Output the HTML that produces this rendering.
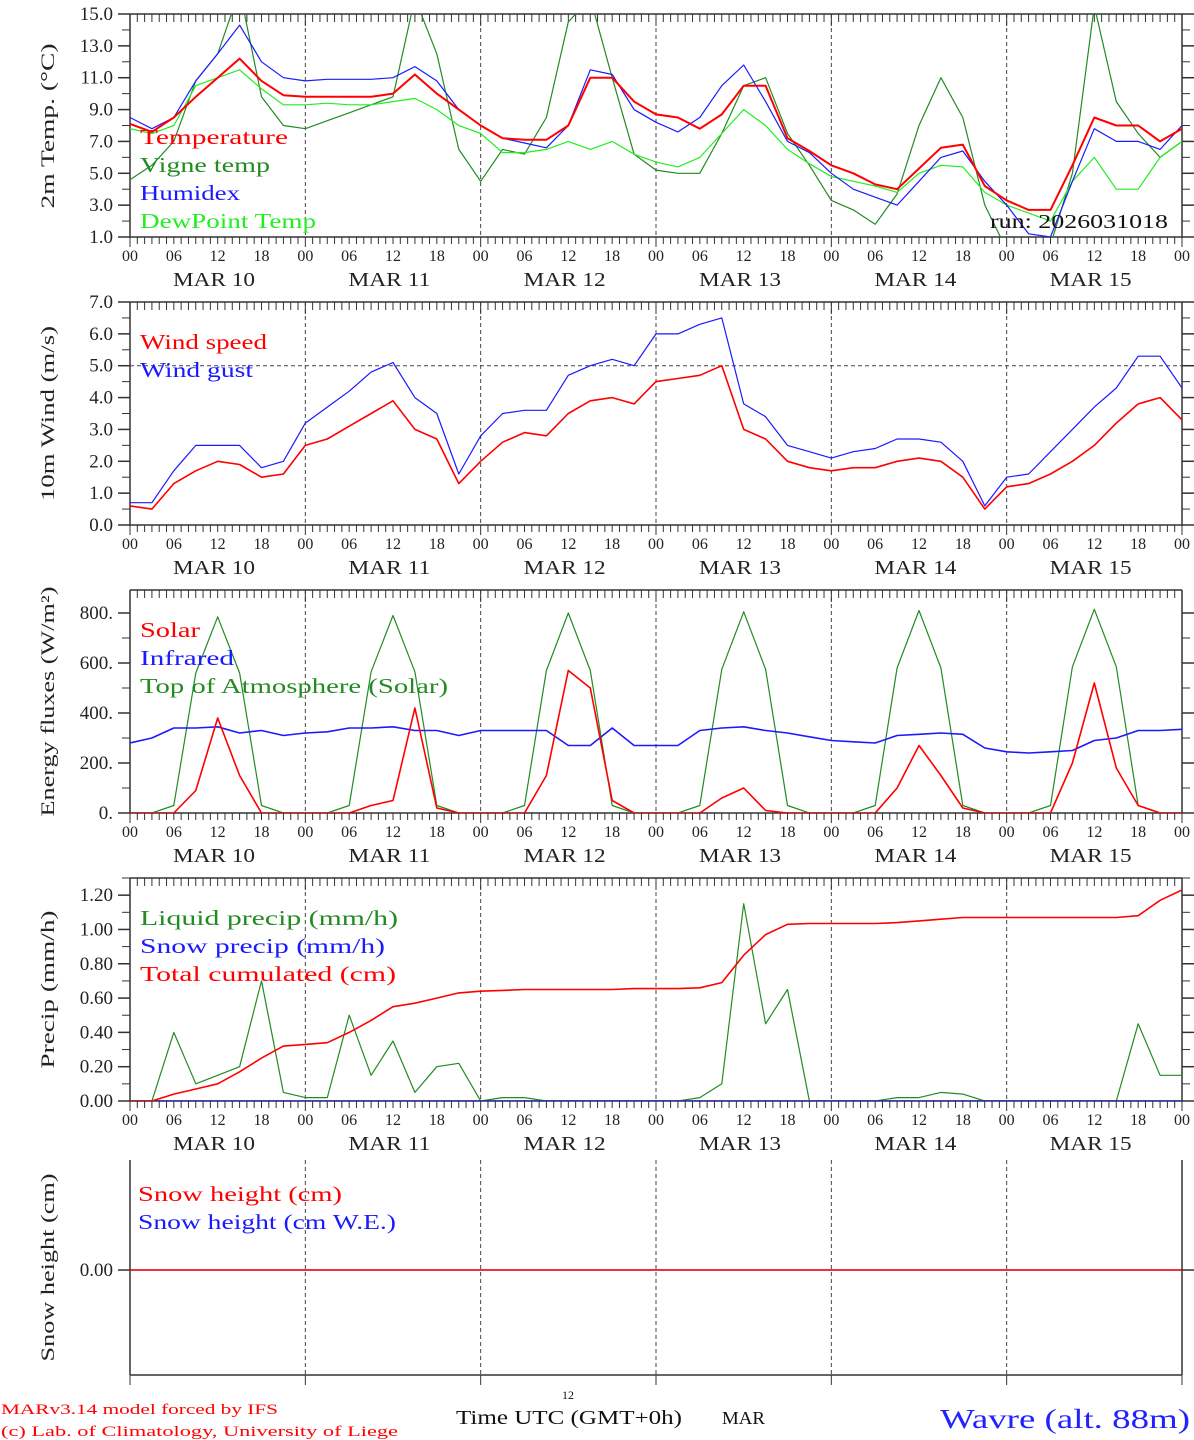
<!DOCTYPE html>
<html><head><meta charset="utf-8"><style>
html,body{margin:0;padding:0;background:#fff;}
svg{display:block;font-family:"Liberation Serif",serif;}
</style></head><body>
<svg id="chart" width="1194" height="1440" viewBox="0 0 1194 1440" xmlns="http://www.w3.org/2000/svg"></svg>
<script>
// ---- data (3-hourly, hours from MAR 10 00 UTC) ----
const hours = [0,3,6,9,12,15,18,21,24,27,30,33,36,39,42,45,48,51,54,57,60,63,66,69,72,75,78,81,84,87,90,93,96,99,102,105,108,111,114,117,120,123,126,129,132,135,138,141,144];
const dayLabels = ["MAR 10","MAR 11","MAR 12","MAR 13","MAR 14","MAR 15"];
const hourTickLabels = ["00","06","12","18"];
// Panel 1: temperatures
const tempValues = [8.1,7.6,8.5,9.8,11.0,12.2,10.8,9.9,9.8,9.8,9.8,9.8,10.0,11.2,10.0,9.0,8.0,7.2,7.1,7.1,8.0,11.0,11.0,9.5,8.7,8.5,7.8,8.7,10.5,10.5,7.2,6.4,5.5,5.0,4.3,4.0,5.3,6.6,6.8,4.2,3.3,2.7,2.7,5.5,8.5,8.0,8.0,7.0,7.8];
const vigneValues = [4.6,5.5,7.0,10.8,12.5,16.5,9.8,8.0,7.8,8.3,8.8,9.3,9.8,16.0,12.5,6.5,4.5,6.5,6.2,8.5,14.5,16.0,11.0,6.2,5.2,5.0,5.0,7.5,10.5,11.0,7.5,5.5,3.3,2.7,1.8,3.7,8.0,11.0,8.5,3.0,0.2,0.0,0.5,5.0,15.5,9.5,7.5,6.0,7.0];
const humidexValues = [8.5,7.8,8.5,10.8,12.5,14.3,12.0,11.0,10.8,10.9,10.9,10.9,11.0,11.7,10.8,9.0,8.0,7.2,6.9,6.6,8.0,11.5,11.2,9.0,8.2,7.6,8.5,10.5,11.8,9.5,7.0,6.3,5.0,4.0,3.5,3.0,4.5,6.0,6.4,4.5,3.0,1.2,1.0,4.5,7.8,7.0,7.0,6.5,8.0];
const dewValues = [7.8,7.5,8.0,10.5,11.0,11.5,10.3,9.3,9.3,9.4,9.3,9.3,9.5,9.7,9.0,8.0,7.5,6.3,6.3,6.5,7.0,6.5,7.0,6.2,5.7,5.4,6.0,7.5,9.0,8.0,6.5,5.6,4.8,4.5,4.2,3.8,5.0,5.5,5.4,3.8,3.0,2.5,2.0,4.5,6.0,4.0,4.0,6.0,7.0];
const tempTicks = [1,3,5,7,9,11,13,15];
// Panel 2: wind
const windSpeed = [0.6,0.5,1.3,1.7,2.0,1.9,1.5,1.6,2.5,2.7,3.1,3.5,3.9,3.0,2.7,1.3,2.0,2.6,2.9,2.8,3.5,3.9,4.0,3.8,4.5,4.6,4.7,5.0,3.0,2.7,2.0,1.8,1.7,1.8,1.8,2.0,2.1,2.0,1.5,0.5,1.2,1.3,1.6,2.0,2.5,3.2,3.8,4.0,3.3];
const windGust = [0.7,0.7,1.7,2.5,2.5,2.5,1.8,2.0,3.2,3.7,4.2,4.8,5.1,4.0,3.5,1.6,2.8,3.5,3.6,3.6,4.7,5.0,5.2,5.0,6.0,6.0,6.3,6.5,3.8,3.4,2.5,2.3,2.1,2.3,2.4,2.7,2.7,2.6,2.0,0.6,1.5,1.6,2.3,3.0,3.7,4.3,5.3,5.3,4.3];
const windTicks = [0,1,2,3,4,5,6,7];
// Panel 3: energy fluxes
const solarValues = [0,0,0,90,380,150,0,0,0,0,0,30,50,420,20,0,0,0,0,150,570,500,50,0,0,0,0,60,100,10,0,0,0,0,0,100,270,150,20,0,0,0,0,200,520,180,30,0,0];
const infraredValues = [280,300,340,340,345,320,330,310,320,325,340,340,345,330,330,310,330,330,330,330,270,270,340,270,270,270,330,340,345,330,320,305,290,285,280,310,315,320,315,260,245,240,245,250,290,300,330,330,335];
const toaValues = [0,0,30,560,785,560,30,0,0,0,30,565,790,565,30,0,0,0,30,570,800,570,30,0,0,0,30,575,805,575,30,0,0,0,30,580,810,580,30,0,0,0,30,585,815,585,30,0,0];
const energyTicks = [0,200,400,600,800];
const energyTickLabels = ["0.","200.","400.","600.","800."];
// Panel 4: precipitation
const liquidPrecip = [0,0,0.4,0.1,0.15,0.2,0.7,0.05,0.02,0.02,0.5,0.15,0.35,0.05,0.2,0.22,0,0.02,0.02,0,0,0,0,0,0,0,0.02,0.1,1.15,0.45,0.65,0,0,0,0,0.02,0.02,0.05,0.04,0,0,0,0,0,0,0,0.45,0.15,0.15];
const snowPrecip = [0,0,0,0,0,0,0,0,0,0,0,0,0,0,0,0,0,0,0,0,0,0,0,0,0,0,0,0,0,0,0,0,0,0,0,0,0,0,0,0,0,0,0,0,0,0,0,0,0];
const totalCum = [0,0,0.04,0.07,0.1,0.17,0.25,0.32,0.33,0.34,0.4,0.47,0.55,0.57,0.6,0.63,0.64,0.645,0.65,0.65,0.65,0.65,0.65,0.655,0.655,0.655,0.66,0.69,0.85,0.97,1.03,1.035,1.035,1.035,1.035,1.04,1.05,1.06,1.07,1.07,1.07,1.07,1.07,1.07,1.07,1.07,1.08,1.17,1.23];
const precipTicks = [0,0.2,0.4,0.6,0.8,1.0,1.2];
// Panel 5: snow height
const snowHeight = [0,0,0,0,0,0,0,0,0,0,0,0,0,0,0,0,0,0,0,0,0,0,0,0,0,0,0,0,0,0,0,0,0,0,0,0,0,0,0,0,0,0,0,0,0,0,0,0,0];
const snowWE = [0,0,0,0,0,0,0,0,0,0,0,0,0,0,0,0,0,0,0,0,0,0,0,0,0,0,0,0,0,0,0,0,0,0,0,0,0,0,0,0,0,0,0,0,0,0,0,0,0];

const NS="http://www.w3.org/2000/svg";
const svg=document.getElementById('chart');
const X0=130,X1=1182,HMAX=144;
function xs(h){return X0+(X1-X0)*h/HMAX;}
function el(tag,attrs,parent){const e=document.createElementNS(NS,tag);for(const k in attrs)e.setAttribute(k,attrs[k]);(parent||svg).appendChild(e);return e;}
function txt(s,attrs,parent){const e=el('text',attrs,parent);e.textContent=s;return e;}

function panel(id,top,bot,vmin,vmax,opts){
  const g=el('g',{});
  
  
  const ys=v=>bot-(v-vmin)/(vmax-vmin)*(bot-top);
  const axisCol="#333";
  for(let d=1;d<6;d++){const x=xs(d*24);
    const l=el('line',{x1:x,y1:top,x2:x,y2:bot,stroke:'#444','stroke-width':1,'stroke-dasharray':'4,3'},g);
    
    }
  if(!opts.noTop) el('line',{x1:X0,y1:top,x2:X1,y2:top,stroke:axisCol,'stroke-width':1.5},g);
  el('line',{x1:X0,y1:bot,x2:X1,y2:bot,stroke:axisCol,'stroke-width':1.5},g);
  el('line',{x1:X0,y1:top,x2:X0,y2:bot,stroke:axisCol,'stroke-width':1.5},g);
  el('line',{x1:X1,y1:top,x2:X1,y2:bot,stroke:axisCol,'stroke-width':1.5},g);
  if(!opts.noTop) for(let h=0;h<=HMAX;h++){const x=xs(h);const L=(h%24==0)?12:8;
    el('line',{x1:x,y1:top,x2:x,y2:top+L,stroke:axisCol,'stroke-width':1},g);}
  for(let h=0;h<=HMAX;h++){
    if(opts.dayTicksOnly && h%24!=0) continue;
    const x=xs(h);const L=(h%24==0)?10:7;
    el('line',{x1:x,y1:bot,x2:x,y2:bot+L,stroke:axisCol,'stroke-width':1},g);}
  (opts.minor||[]).forEach(v=>{const y=ys(v);
    el('line',{x1:X0-8,y1:y,x2:X0,y2:y,stroke:axisCol,'stroke-width':1},g);
    el('line',{x1:X1,y1:y,x2:X1+8,y2:y,stroke:axisCol,'stroke-width':1},g);});
  opts.ticks.forEach((v,i)=>{const y=ys(v);
    el('line',{x1:X0-12,y1:y,x2:X0,y2:y,stroke:axisCol,'stroke-width':1.5},g);
    el('line',{x1:X1,y1:y,x2:X1+12,y2:y,stroke:axisCol,'stroke-width':1.5},g);
    const t=txt(opts.tickLabels[i],{x:X0-17,y:y+6,'text-anchor':'end','font-size':19,fill:'#222'},g);
    
    });
  if(!opts.noX){
    for(let h=0;h<=HMAX;h+=6){const t=txt(hourTickLabels[(h/6)%4],{x:xs(h),y:bot+24,'text-anchor':'middle','font-size':16,fill:'#222'},g);
      
      }
    dayLabels.forEach((d,i)=>{const t=txt(d,{x:xs(i*24+11.5),y:bot+49,'text-anchor':'middle','font-size':20,fill:'#222',textLength:82,lengthAdjust:'spacingAndGlyphs'},g);
      
      });
  }
  const cy=opts.titleY||(top+bot)/2;
  const tt=txt(opts.title,{x:0,y:0,'text-anchor':'middle','font-size':19,fill:'#222',transform:`translate(54,${cy}) rotate(-90)`},g);
  if(opts.titleLen){tt.setAttribute('textLength',opts.titleLen);tt.setAttribute('lengthAdjust','spacingAndGlyphs');}
  
  
  const cp=el('clipPath',{id:'clip-'+id},g);
  el('rect',{x:X0,y:top,width:X1-X0,height:bot-top},cp);
  const sg=el('g',{'clip-path':`url(#clip-${id})`},g);
  return {g,sg,ys};
}
function series(p,vals,color,w,name){
  const pts=vals.map((v,i)=>xs(hours[i]).toFixed(1)+','+p.ys(v).toFixed(1)).join(' ');
  const l=el('polyline',{points:pts,fill:'none',stroke:color,'stroke-width':w,'stroke-linejoin':'round'},p.sg);
  
  
}
function legend(p,items,x,y0){
  items.forEach((it,i)=>{const t=txt(it[0],{x:x,y:y0+i*28,'font-size':21,fill:it[1],textLength:it[2],lengthAdjust:'spacingAndGlyphs'},p.g);
    
    });
}
function range(a,b,s){const r=[];for(let v=a;v<=b+1e-9;v+=s)r.push(+v.toFixed(3));return r;}

const p1=panel('temperature',14,237,1,15,{ticks:tempTicks,tickLabels:tempTicks.map(v=>v.toFixed(1)),minor:range(1,15,1),title:'2m Temp. (\u00B0C)',titleY:126,titleLen:165});
series(p1,vigneValues,'#228B22',1.2,'vigne-temp-line');
series(p1,dewValues,'#22ee22',1.2,'dewpoint-line');
series(p1,humidexValues,'#1a1aff',1.2,'humidex-line');
series(p1,tempValues,'#ff0000',2,'temperature-line');
legend(p1,[['Temperature','#ff0000',148],['Vigne temp','#228B22',130],['Humidex','#1a1aff',100],['DewPoint Temp','#22ee22',176]],140,144);
const run=txt('run: 2026031018',{x:990,y:228,'font-size':20,fill:'#111',textLength:178,lengthAdjust:'spacingAndGlyphs'},p1.g);



const p2=panel('wind',302,525,0,7,{ticks:windTicks,tickLabels:windTicks.map(v=>v.toFixed(1)),minor:range(0,7,0.5),title:'10m Wind (m/s)',titleLen:175});
el('line',{x1:X0,y1:p2.ys(5),x2:X1,y2:p2.ys(5),stroke:'#444','stroke-width':1,'stroke-dasharray':'4,3'},p2.sg);
series(p2,windGust,'#1a1aff',1.2,'wind-gust-line');
series(p2,windSpeed,'#ff0000',1.6,'wind-speed-line');
legend(p2,[['Wind speed','#ff0000',127],['Wind gust','#1a1aff',113]],140,349);

const p3=panel('energy',590,813,0,892,{ticks:energyTicks,tickLabels:energyTickLabels,minor:range(0,800,100),title:'Energy fluxes (W/m\u00B2)',titleLen:230});
series(p3,toaValues,'#228B22',1.2,'toa-solar-line');
series(p3,infraredValues,'#1a1aff',1.6,'infrared-line');
series(p3,solarValues,'#ff0000',1.6,'solar-line');
legend(p3,[['Solar','#ff0000',60],['Infrared','#1a1aff',94],['Top of Atmosphere (Solar)','#228B22',308]],140,637);

const p4=panel('precip',878,1101,0,1.30,{ticks:precipTicks,tickLabels:precipTicks.map(v=>v.toFixed(2)),minor:range(0,1.3,0.1),title:'Precip (mm/h)',titleLen:158});
series(p4,liquidPrecip,'#228B22',1.2,'liquid-precip-line');
series(p4,snowPrecip,'#1a1aff',1.6,'snow-precip-line');
series(p4,totalCum,'#ff0000',1.6,'total-cumulated-line');
legend(p4,[['Liquid precip (mm/h)','#228B22',258],['Snow precip (mm/h)','#1a1aff',245],['Total cumulated (cm)','#ff0000',256]],140,925);

const p5=panel('snow',1160,1375,-0.954,1.0,{ticks:[0],tickLabels:['0.00'],minor:[],title:'Snow height (cm)',titleLen:188,noTop:true,noX:true,dayTicksOnly:true});
series(p5,snowWE,'#1a1aff',1.2,'snow-we-line');
series(p5,snowHeight,'#ff0000',1.4,'snow-height-line');
legend(p5,[['Snow height (cm)','#ff0000',204],['Snow height (cm W.E.)','#1a1aff',258]],138,1201);

function foot(s,a,name){const t=txt(s,a);}
foot('12',{x:568,y:1399,'text-anchor':'middle','font-size':12,fill:'#111'},'axis-12-label');
foot('Time UTC (GMT+0h)',{x:456,y:1424,'font-size':20,fill:'#111',textLength:226,lengthAdjust:'spacingAndGlyphs'},'x-axis-title');
foot('MAR',{x:722,y:1424,'font-size':18,fill:'#111',textLength:43,lengthAdjust:'spacingAndGlyphs'},'x-axis-month');
foot('MARv3.14 model forced by IFS',{x:1,y:1414,'font-size':15,fill:'#ff0000',textLength:277,lengthAdjust:'spacingAndGlyphs'},'model-credit');
foot('(c) Lab. of Climatology, University of Liege',{x:1,y:1436,'font-size':15,fill:'#ff0000',textLength:397,lengthAdjust:'spacingAndGlyphs'},'lab-credit');
foot('Wavre (alt. 88m)',{x:940,y:1428,'font-size':27,fill:'#2222ff',textLength:250,lengthAdjust:'spacingAndGlyphs'},'station-title');
</script>
</body></html>
